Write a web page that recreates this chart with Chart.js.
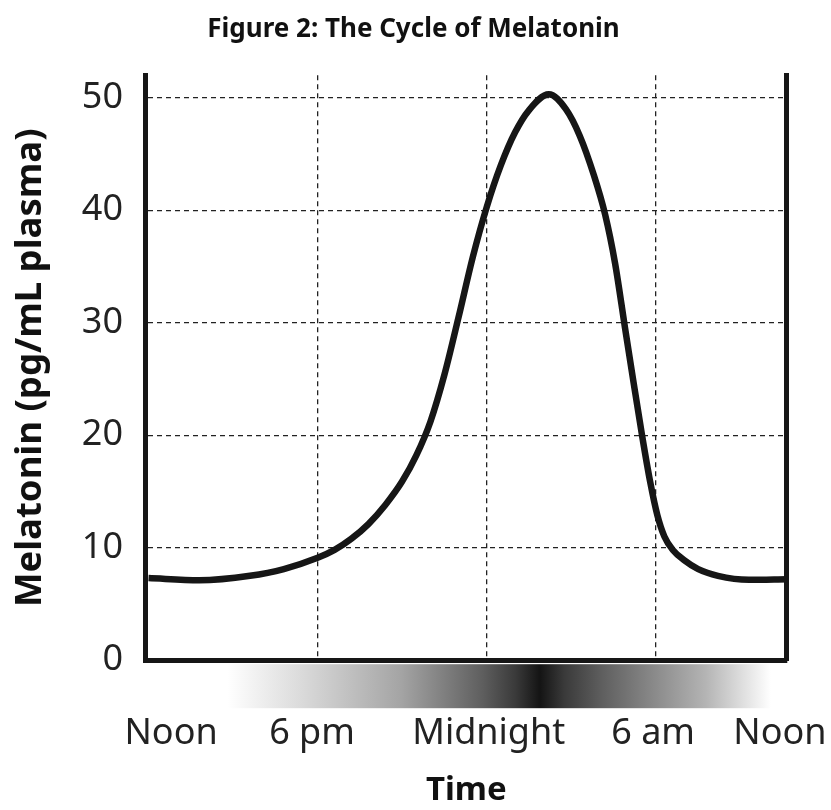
<!DOCTYPE html>
<html>
<head>
<meta charset="utf-8">
<script src="https://cdn.jsdelivr.net/npm/chart.js@4"></script>
<style>
  body { margin: 0; background: #fff; }
  #chart { display: block; }
</style>
</head>
<body>
<canvas id="chart" width="831" height="810"></canvas>
<script>
// hours after noon
const hours = [0, 1.8, 3.6, 4.8, 6.0, 6.6, 7.2, 7.8, 8.4, 9.0, 9.5, 10.0, 10.5, 11.0, 11.5, 12.0, 12.5, 13.0, 13.5, 14.2,
    14.8, 15.3, 15.8, 16.2, 16.55, 16.9, 17.2, 17.5, 17.8, 18.05, 18.3, 18.6, 19.0, 19.5, 20.2, 21.3, 22.64];
// melatonin, pg/mL plasma
const melatonin = [7.3, 7.1, 7.5, 8.1, 9.1, 9.8, 10.8, 12.1, 13.8, 15.9, 18.2, 21.2, 25.4, 30.5, 35.8, 40.3, 44.0, 46.9, 48.9, 50.3,
    49.0, 46.6, 43.1, 39.6, 35.3, 29.6, 24.8, 20.1, 15.8, 12.9, 11.0, 9.8, 8.9, 8.1, 7.5, 7.15, 7.2];

const yTicks = [0, 10, 20, 30, 40, 50];
const gridHours = [6, 12, 18];
const timeLabels = ['Noon', '6 pm', 'Midnight', '6 am', 'Noon'];
const labelHours = [0.8, 5.8, 12.07, 17.9, 22.4];

const X_MIN = -0.09;
const X_MAX = 22.64;
const Y_MAX = 52;
const FONT = "'Noto Sans', 'Open Sans', sans-serif";

// dark band under the time axis (night)
const nightBand = {
    id: 'nightBand',
    afterDraw(chart) {
        const ctx = chart.ctx;
        const x = chart.scales.x;
        const x0 = x.getPixelForValue(2.8);
        const x1 = x.getPixelForValue(22.08);
        const top = chart.chartArea.bottom + 4;
        const h = 44;
        const g = ctx.createLinearGradient(x0, 0, x1, 0);
        const stops = [
            [0, '#ffffff'], [0.13, '#dcdcdc'], [0.32, '#a4a4a4'], [0.47, '#5e5e5e'],
            [0.53, '#3a3a3a'], [0.575, '#141414'], [0.62, '#3a3a3a'], [0.69, '#5f5f5f'],
            [0.79, '#8c8c8c'], [0.88, '#b4b4b4'], [0.95, '#e0e0e0'], [1, '#ffffff']
        ];
        stops.forEach(s => g.addColorStop(s[0], s[1]));
        ctx.save();
        ctx.fillStyle = g;
        ctx.fillRect(x0, top, x1 - x0, h);
        ctx.restore();
    }
};

new Chart(document.getElementById('chart'), {
    type: 'line',
    data: {
        datasets: [{
            data: hours.map((h, i) => ({ x: h, y: melatonin[i] })),
            borderColor: '#161616',
            borderWidth: 6.5,
            pointRadius: 0,
            cubicInterpolationMode: 'monotone',
            fill: false
        }]
    },
    options: {
        responsive: false,
        animation: false,
        layout: { padding: { left: 0, right: 4, top: 0, bottom: 0 } },
        plugins: {
            legend: { display: false },
            tooltip: { enabled: false },
            title: {
                display: true,
                text: 'Figure 2: The Cycle of Melatonin',
                color: '#111',
                font: { family: FONT, size: 26, weight: 'bold' },
                padding: { top: 14, bottom: 30 }
            }
        },
        scales: {
            x: {
                type: 'linear',
                position: 'bottom',
                weight: 0,
                min: X_MIN,
                max: X_MAX,
                afterBuildTicks: axis => { axis.ticks = gridHours.map(v => ({ value: v })); },
                ticks: { display: false },
                grid: { color: '#222', lineWidth: 1.3, drawTicks: false },
                border: { display: true, width: 5, color: '#161616', dash: [5, 4] }
            },
            x2: {
                type: 'linear',
                position: 'bottom',
                weight: 1,
                min: X_MIN,
                max: X_MAX,
                afterBuildTicks: axis => { axis.ticks = labelHours.map(v => ({ value: v })); },
                ticks: {
                    padding: 4,
                    color: '#222',
                    maxRotation: 0,
                    autoSkip: false,
                    font: { family: FONT, size: 36 },
                    callback: (v, i) => timeLabels[i]
                },
                // transparent tick marks leave room for the night band
                grid: { display: true, drawOnChartArea: false, drawTicks: true, tickLength: 48, tickColor: 'transparent', color: 'transparent' },
                border: { display: false },
                title: {
                    display: true,
                    text: 'Time',
                    color: '#111',
                    font: { family: FONT, size: 33, weight: 'bold' },
                    padding: { top: 11, bottom: 0 }
                }
            },
            y: {
                type: 'linear',
                min: 0,
                max: Y_MAX,
                afterBuildTicks: axis => { axis.ticks = yTicks.map(v => ({ value: v })); },
                ticks: {
                    padding: 23,
                    color: '#222',
                    font: { family: FONT, size: 36 }
                },
                grid: { color: '#222', lineWidth: 1.3, drawTicks: false },
                border: { display: true, width: 5, color: '#161616', dash: [5, 4] },
                title: {
                    display: true,
                    text: 'Melatonin (pg/mL plasma)',
                    color: '#111',
                    font: { family: FONT, size: 36.5, weight: 'bold' },
                    padding: { top: 9, bottom: 6 }
                }
            },
            y2: {
                type: 'linear',
                position: 'right',
                min: 0,
                max: Y_MAX,
                ticks: { display: false },
                grid: { display: false, drawTicks: false },
                border: { display: true, width: 5, color: '#161616' }
            }
        }
    },
    plugins: [nightBand]
});
</script>
</body>
</html>
